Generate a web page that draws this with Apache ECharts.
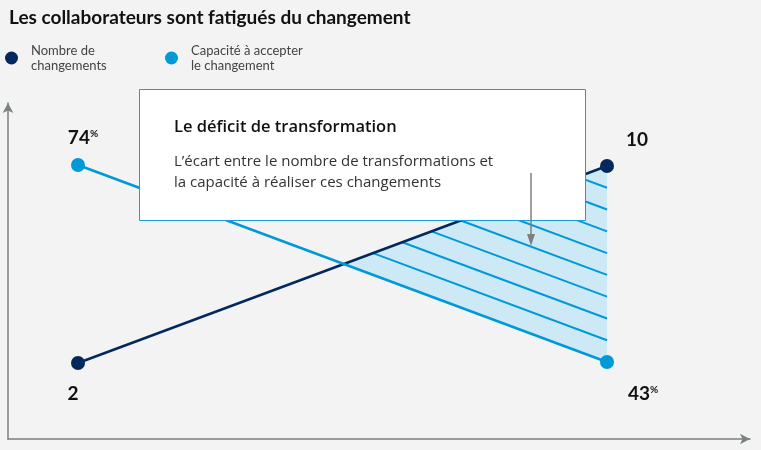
<!DOCTYPE html>
<html>
<head>
<meta charset="utf-8">
<script src="https://cdn.jsdelivr.net/npm/echarts@6/dist/echarts.min.js"></script>
<style>
html,body{margin:0;padding:0;background:#f3f3f3;}
#chart{width:761px;height:450px;}
</style>
</head>
<body>
<div id="chart"></div>
<script>
// ---- data ----
const seriesNames = ['Nombre de\nchangements', 'Capacité à accepter\nle changement'];
const xPos = [0, 1];                 // start / end of the period
const changes = [2, 10];             // nombre de changements
const capacity = [74, 43];           // capacité à accepter (%)
const hatchCount = 9;                // number of equal hatch intervals

const DARK = '#03295c';
const LIGHT = '#0099d8';
const FONT = 'Lato';
const BOXFONT = 'Open Sans';

const chart = echarts.init(document.getElementById('chart'));

function toPx(yIdx, x, y) {
  return chart.convertToPixel({ xAxisIndex: 0, yAxisIndex: yIdx }, [x, y]);
}

function renderGap(params, api) {
  if (params.dataIndex !== 0) return null;
  const d0 = toPx(0, xPos[0], changes[0]);
  const d1 = toPx(0, xPos[1], changes[1]);
  const l0 = toPx(1, xPos[0], capacity[0]);
  const l1 = toPx(1, xPos[1], capacity[1]);
  if (!d0 || !l0) return null;
  // (light(t) + s) = dark(t)  →  a + b t = -s
  const a = l0[1] - d0[1];
  const b = (l1[1] - l0[1]) - (d1[1] - d0[1]);
  const pt = (p, q, t) => [p[0] + (q[0] - p[0]) * t, p[1] + (q[1] - p[1]) * t];
  const tc = -a / b;
  const cross = pt(d0, d1, tc);
  const children = [{
    type: 'polygon',
    shape: { points: [cross, d1, l1] },
    style: { fill: '#cde9f6' },
    z2: 1
  }];
  const g = l1[1] - d1[1];
  for (let k = 1; k < hatchCount; k++) {
    const s = -k * g / hatchCount; // light line shifted upward
    const t = (-s - a) / b;
    const start = pt(l0, l1, t);
    start[1] += s;
    const end = [l1[0], l1[1] + s];
    children.push({
      type: 'line',
      shape: { x1: start[0], y1: start[1], x2: end[0], y2: end[1] },
      style: { stroke: LIGHT, lineWidth: 2 },
      z2: 2
    });
  }
  return { type: 'group', children: children };
}

const supRich = {
  v: { fontSize: 19, fontWeight: 'bold', color: '#111', fontFamily: FONT },
  p: { fontSize: 10, fontWeight: 'bold', color: '#111', fontFamily: FONT, verticalAlign: 'top', padding: [0, 0, 6, 0] }
};

function pointLabel(offset, withPct) {
  return {
    show: true,
    position: 'inside',
    offset: offset,
    formatter: p => withPct ? '{v|' + p.value[1] + '}{p|%}' : '{v|' + p.value[1] + '}',
    rich: supRich
  };
}

const legendText = { fontFamily: FONT, fontSize: 13, color: '#444', lineHeight: 15, padding: [0, 0, 0, 8] };

const option = {
  backgroundColor: '#f3f3f3',
  animation: false,
  title: {
    text: 'Les collaborateurs sont fatigués du changement',
    left: 9, top: 8, padding: 0,
    textStyle: { fontFamily: FONT, fontSize: 19, fontWeight: 'bold', color: '#111' }
  },
  legend: [
    {
      data: [seriesNames[0]], left: 0, top: 38, icon: 'circle', itemWidth: 13, itemHeight: 13,
      selectedMode: false, textStyle: legendText
    },
    {
      data: [seriesNames[1]], left: 160, top: 38, icon: 'circle', itemWidth: 13, itemHeight: 13,
      selectedMode: false, textStyle: legendText
    }
  ],
  grid: { left: 8, right: 11, top: 103, bottom: 11, containLabel: false },
  xAxis: {
    type: 'value', min: -0.1323, max: 1.2703,
    axisLine: { show: true, onZero: false, symbol: ['none', 'arrow'], symbolSize: [8, 10], lineStyle: { color: '#7b8081', width: 1.5 } },
    axisTick: { show: false }, axisLabel: { show: false }, splitLine: { show: false }
  },
  yAxis: [
    {
      type: 'value', min: -1.0863, max: 12.5584,
      axisLine: { show: true, onZero: false, symbol: ['none', 'arrow'], symbolSize: [8, 10], lineStyle: { color: '#7b8081', width: 1.5 } },
      axisTick: { show: false }, axisLabel: { show: false }, splitLine: { show: false }
    },
    {
      type: 'value', min: 30.883, max: 83.756, show: false,
      axisLine: { show: false }, splitLine: { show: false }
    }
  ],
  series: [
    {
      type: 'custom',
      name: 'gap',
      yAxisIndex: 0,
      renderItem: renderGap,
      data: [[xPos[0], changes[0]]],
      silent: true,
      z: 1
    },
    {
      name: seriesNames[0],
      type: 'line',
      yAxisIndex: 0,
      color: DARK,
      symbol: 'circle', symbolSize: 14,
      lineStyle: { color: DARK, width: 2.5 },
      itemStyle: { color: DARK },
      z: 3,
      data: [
        { value: [xPos[0], changes[0]], label: pointLabel([-5, 31], false) },
        { value: [xPos[1], changes[1]], label: pointLabel([30, -26], false) }
      ]
    },
    {
      name: seriesNames[1],
      type: 'line',
      yAxisIndex: 1,
      color: LIGHT,
      symbol: 'circle', symbolSize: 14,
      lineStyle: { color: LIGHT, width: 2.5 },
      itemStyle: { color: LIGHT },
      z: 3,
      data: [
        { value: [xPos[0], capacity[0]], label: pointLabel([5, -27], true) },
        { value: [xPos[1], capacity[1]], label: pointLabel([36, 32], true) }
      ]
    }
  ],
  graphic: [
    {
      type: 'rect', z: 100,
      shape: { x: 139.5, y: 89.5, width: 446, height: 131 },
      style: { fill: '#ffffff', stroke: '#1a9fda', lineWidth: 1 }
    },
    {
      type: 'text', z: 101, x: 174, y: 119,
      style: { text: 'Le déficit de transformation', fontFamily: BOXFONT, fontSize: 16.5, fontWeight: 600, fill: '#111' }
    },
    {
      type: 'text', z: 101, x: 174, y: 151,
      style: { text: 'L’écart entre le nombre de transformations et\nla capacité à réaliser ces changements', fontFamily: BOXFONT, fontSize: 15, lineHeight: 21, fill: '#333' }
    },
    {
      type: 'line', z: 101,
      shape: { x1: 531, y1: 173, x2: 531, y2: 236 },
      style: { stroke: '#7f7f7f', lineWidth: 1.5 }
    },
    {
      type: 'polygon', z: 101,
      shape: { points: [[527, 234], [535, 234], [531, 246]] },
      style: { fill: '#7f7f7f' }
    }
  ]
};

chart.setOption(option);
</script>
</body>
</html>
